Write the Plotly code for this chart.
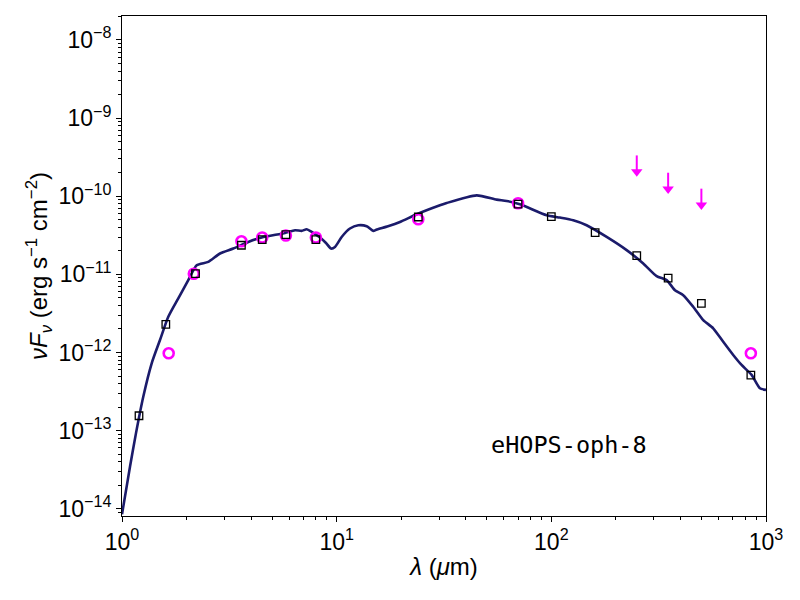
import numpy as np
import plotly.graph_objects as go

# Model SED curve (wavelength in micron, nuFnu in erg s^-1 cm^-2)
model_wave = [1.0, 1.09, 1.162, 1.257, 1.375, 1.503, 1.643, 1.829, 2.036, 2.228,
              2.523, 2.861, 3.30, 3.876, 4.474, 5.743, 6.394, 6.871, 7.251, 7.649,
              8.362, 8.917, 9.408, 9.82, 10.55, 11.53, 12.61, 13.80, 14.81, 15.36,
              17.34, 19.72, 23.59, 30.27, 32.53, 44.88, 55.62, 61.9, 71.4, 95.1,
              109.7, 126.5, 146.0, 181.0, 224.3, 268.0, 309.4, 344.4, 376.4, 411.5,
              458.0, 510.0, 567.6, 632.0, 703.5, 769.6, 857.0, 936.7, 1000.0]
model_flux = [8.5e-15, 3.48e-14, 9.29e-14, 2.73e-13, 7.28e-13, 1.445e-12, 2.86e-12, 4.92e-12, 8.43e-12, 1.31e-11,
              1.445e-11, 1.85e-11, 2.14e-11, 2.60e-11, 2.96e-11, 3.39e-11, 3.67e-11, 3.60e-11, 3.78e-11, 3.49e-11,
              2.96e-11, 2.52e-11, 2.14e-11, 2.24e-11, 3.01e-11, 3.86e-11, 4.25e-11, 4.13e-11, 3.60e-11, 3.74e-11,
              4.13e-11, 4.68e-11, 5.87e-11, 7.65e-11, 8.19e-11, 1.027e-10, 9.05e-11, 8.69e-11, 7.88e-11, 5.70e-11,
              5.33e-11, 4.92e-11, 4.25e-11, 3.01e-11, 2.04e-11, 1.38e-11, 9.49e-12, 8.43e-12, 6.28e-12, 5.42e-12,
              3.85e-12, 2.60e-12, 2.04e-12, 1.37e-12, 9.29e-13, 6.92e-13, 5.16e-13, 3.49e-13, 3.32e-13]

# Model fluxes at the observed bands (open squares)
band_wave = [1.2, 1.6, 2.2, 3.6, 4.5, 5.8, 8.0, 24.0, 70.0, 100.0, 160.0, 250.0, 350.0, 500.0, 850.0]
band_flux = [1.55e-13, 2.29e-12, 1.02e-11, 2.36e-11, 2.79e-11, 3.23e-11, 2.79e-11, 5.42e-11, 7.94e-11,
             5.49e-11, 3.43e-11, 1.74e-11, 8.94e-12, 4.25e-12, 5.12e-13]

# Observed photometry (magenta circles)
obs_wave = [1.65, 2.16, 3.6, 4.5, 5.8, 8.0, 24.0, 70.0, 850.0]
obs_flux = [9.77e-13, 1.02e-11, 2.65e-11, 2.96e-11, 3.14e-11, 2.96e-11, 5.07e-11, 8.13e-11, 9.77e-13]

# Upper limits (magenta arrows)
lim_wave = [250.0, 350.0, 500.0]
lim_flux = [3.33e-10, 2.0e-10, 1.25e-10]

source_name = "eHOPS-oph-8"

MAGENTA = "#ff00ff"
NAVY = "#1b1b6b"
FONT = "Liberation Sans, Arial, Helvetica, sans-serif"

fig = go.Figure()

fig.add_trace(go.Scatter(x=model_wave, y=model_flux, mode="lines", line_shape="spline",
                         line=dict(color=NAVY, width=2.6, smoothing=0.6), showlegend=False, hoverinfo="skip"))

# upper-limit arrows: shaft + head
head_factor = 10 ** (-0.21)
ax_x, ax_y = [], []
for w, f in zip(lim_wave, lim_flux):
    ax_x += [w, w, None]
    ax_y += [f, f * head_factor, None]
fig.add_trace(go.Scatter(x=ax_x, y=ax_y, mode="lines", line=dict(color=MAGENTA, width=2),
                         showlegend=False, hoverinfo="skip"))
fig.add_trace(go.Scatter(x=lim_wave, y=[f * head_factor for f in lim_flux], mode="markers",
                         marker=dict(symbol="triangle-down", size=10, color=MAGENTA, line=dict(width=0)),
                         showlegend=False, hoverinfo="skip"))

fig.add_trace(go.Scatter(x=obs_wave, y=obs_flux, mode="markers",
                         marker=dict(symbol="circle-open", size=10, color=MAGENTA, line=dict(width=2.6, color=MAGENTA)),
                         showlegend=False))
fig.add_trace(go.Scatter(x=band_wave, y=band_flux, mode="markers",
                         marker=dict(symbol="square-open", size=7.5, color="black", line=dict(width=1.3, color="black")),
                         showlegend=False))

def sup(n):
    s = str(n).replace("-", "\u2212")
    return f"10<sup>{s}</sup>"

xmaj = [1, 10, 100, 1000]
xmin = [m * 10 ** k for k in range(0, 3) for m in range(2, 10)]
ymaj_exp = list(range(-14, -7))
ymaj = [10.0 ** e for e in ymaj_exp]
ymin = [m * 10.0 ** k for k in range(-15, -7) for m in range(2, 10)]

fig.update_xaxes(type="log", range=[0, 3],
                 tickmode="array", tickvals=xmaj, ticktext=[sup(e) for e in [0, 1, 2, 3]],
                 ticks="outside", ticklen=5, tickwidth=1, tickcolor="black",
                 minor=dict(tickmode="array", tickvals=xmin, ticks="outside", ticklen=3, tickwidth=0.8, tickcolor="black"),
                 showline=True, linecolor="black", linewidth=1, mirror=True,
                 showgrid=False, zeroline=False,
                 tickfont=dict(size=23, color="black", family=FONT),
                 title=dict(text="<i>λ</i> (<i>μ</i>m)", font=dict(size=24, color="black", family=FONT), standoff=4))
fig.update_yaxes(type="log", range=[-14.093, -7.693],
                 tickmode="array", tickvals=ymaj, ticktext=[sup(e) for e in ymaj_exp],
                 ticks="outside", ticklen=5, tickwidth=1, tickcolor="black",
                 minor=dict(tickmode="array", tickvals=ymin, ticks="outside", ticklen=3, tickwidth=0.8, tickcolor="black"),
                 showline=True, linecolor="black", linewidth=1, mirror=True,
                 showgrid=False, zeroline=False,
                 tickfont=dict(size=23, color="black", family=FONT),
                 title=dict(text="<i>νF</i><sub><i>ν</i></sub> (erg s<sup>\u22121</sup> cm<sup>\u22122</sup>)",
                            font=dict(size=24, color="black", family=FONT), standoff=4))

fig.add_annotation(text=source_name, xref="paper", yref="paper", x=0.694, y=0.142,
                   showarrow=False, xanchor="center", yanchor="middle",
                   font=dict(size=23.5, color="black", family="DejaVu Sans Mono, monospace"))

# page body adds an 8px offset; margins compensate so the plot box sits at 122..766 x 15..515
fig.update_layout(width=800, height=600, margin=dict(l=114, r=42, t=8, b=92),
                  paper_bgcolor="white", plot_bgcolor="white", font=dict(family=FONT, color="black"))

fig.write_html("out.html")
